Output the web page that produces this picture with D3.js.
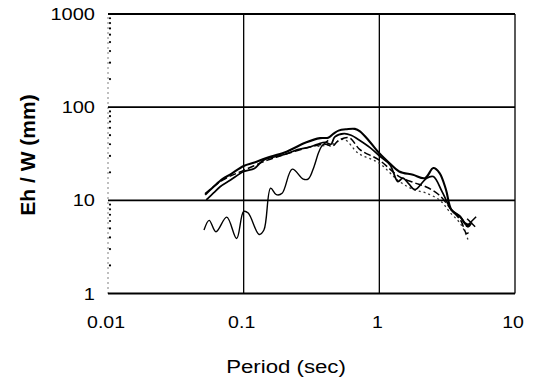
<!DOCTYPE html>
<html>
<head>
<meta charset="utf-8">
<script src="https://cdn.jsdelivr.net/npm/d3@7"></script>
<style>
  body { margin: 0; background: #fff; }
  text { font-family: "Liberation Sans", Arial, sans-serif; fill: #000; }
</style>
</head>
<body>
<div id="chart"></div>
<script>
// tick values
const xTicks = [0.01, 0.1, 1, 10];
const yTicks = [1, 10, 100, 1000];

// series: [period (sec), Eh/W (mm)]
const seriesTop = [[0.052,11.5],[0.06,14],[0.07,17],[0.08,19],[0.1,23.4],[0.12,25.5],[0.147,28.5],[0.2,32.6],[0.29,42],[0.366,46.5],[0.42,47],[0.46,52],[0.5,56],[0.576,58],[0.66,58.5],[0.72,55],[0.85,42.6],[1.0,32],[1.19,25],[1.4,20.4],[1.77,18.8],[2.17,17.3],[2.5,22.2],[2.78,19.6],[3.1,13],[3.4,7.9],[3.94,6.7],[4.27,5.7],[4.65,5.4]];
const seriesSecond = [[0.053,10.1],[0.06,12],[0.067,14],[0.08,16.5],[0.1,20.4],[0.12,22],[0.14,27],[0.2,31],[0.25,35],[0.3,37],[0.35,40],[0.4,42],[0.44,40],[0.47,48],[0.55,52],[0.62,50],[0.7,45],[0.85,37],[1.0,30],[1.2,24],[1.37,15.9],[1.49,17.3],[1.65,15],[1.83,13],[2.23,17.3],[2.5,18],[2.9,12.4],[3.4,7.9],[4.0,6.5],[4.5,5.2],[4.8,5.8]];
const seriesDashed = [[0.052,11.8],[0.07,16.5],[0.1,21],[0.15,27],[0.2,31],[0.3,37],[0.4,40],[0.45,38],[0.5,44],[0.6,47],[0.72,35],[1.0,27],[1.4,18],[1.8,15.5],[2.2,14],[2.76,11.4],[3.4,7.9],[4.0,6],[4.4,4.4],[4.7,4.8]];
const seriesDotted = [[0.35,38],[0.45,40],[0.55,45],[0.7,32],[1.0,25],[1.4,16],[1.8,13],[2.2,12],[2.8,10],[3.3,7.5],[4.0,5.5],[4.5,3.8]];
const seriesThin = [[0.051,4.8],[0.0557,6.1],[0.0625,4.6],[0.075,6.6],[0.0887,3.9],[0.1,7.6],[0.108,7.3],[0.13,4.3],[0.141,4.8],[0.158,13.5],[0.174,11.5],[0.192,11.9],[0.228,21.6],[0.275,16.9],[0.30,17],[0.33,23],[0.355,32],[0.375,38],[0.396,41],[0.42,44]];
const endMarker = [4.75, 5.9];

const W = 536, H = 383;
const margin = {left: 108, right: 21, top: 14, bottom: 89.5};

const svg = d3.select('#chart').append('svg')
  .attr('width', W).attr('height', H);

const x = d3.scaleLog().domain([0.01, 10]).range([margin.left, W - margin.right]);
const y = d3.scaleLog().domain([1, 1000]).range([H - margin.bottom, margin.top]);

// grid
svg.append('g').selectAll('line.h').data(yTicks).join('line')
  .attr('x1', x(0.01)).attr('x2', x(10))
  .attr('y1', d => y(d)).attr('y2', d => y(d))
  .attr('stroke', '#000').attr('stroke-width', 1.8);
svg.append('g').selectAll('line.v').data(xTicks.slice(1)).join('line')
  .attr('x1', d => x(d)).attr('x2', d => x(d))
  .attr('y1', y(1)).attr('y2', y(1000))
  .attr('stroke', '#000').attr('stroke-width', 1.3);
// left axis dotted
svg.append('line')
  .attr('x1', x(0.01)).attr('x2', x(0.01))
  .attr('y1', y(1)).attr('y2', y(1000))
  .attr('stroke', '#000').attr('stroke-width', 1).attr('stroke-dasharray', '1,4');

// minor tick dots on the left axis
const minors = [];
[1, 10, 100].forEach(dec => { for (let k = 2; k <= 9; k++) minors.push(dec * k); });
svg.append('g').selectAll('circle').data(minors).join('circle')
  .attr('cx', x(0.01) + 2).attr('cy', d => y(d)).attr('r', 1.1).attr('fill', '#000');

// tick labels
svg.append('g').selectAll('text').data(yTicks).join('text')
  .attr('transform', d => `translate(95, ${y(d) + 6}) scale(1.25,1)`)
  .attr('text-anchor', 'end').attr('font-size', 16)
  .text(d => d);
svg.append('g').selectAll('text').data(xTicks).join('text')
  .attr('transform', d => `translate(${x(d) - 2}, 328) scale(1.22,1)`)
  .attr('text-anchor', 'middle').attr('font-size', 16)
  .text(d => d);

// axis titles
svg.append('text')
  .attr('transform', 'translate(286, 373) scale(1.17,1)')
  .attr('text-anchor', 'middle').attr('font-size', 19)
  .text('Period (sec)');
svg.append('text')
  .attr('transform', 'translate(35, 155) rotate(-90)')
  .attr('text-anchor', 'middle').attr('font-size', 21).attr('font-weight', 'bold')
  .text('Eh / W (mm)');

// series
const line = d3.line().x(d => x(d[0])).y(d => y(d[1])).curve(d3.curveCatmullRom.alpha(0.5));
const styles = [
  {data: seriesDotted, w: 1.3, dash: '2,3', color: '#333'},
  {data: seriesDashed, w: 1.5, dash: '7,3', color: '#000'},
  {data: seriesThin, w: 1.4, dash: null, color: '#000'},
  {data: seriesSecond, w: 1.7, dash: null, color: '#000'},
  {data: seriesTop, w: 2.1, dash: null, color: '#000'}
];
svg.append('g').selectAll('path').data(styles).join('path')
  .attr('d', d => line(d.data))
  .attr('fill', 'none')
  .attr('stroke', d => d.color)
  .attr('stroke-width', d => d.w)
  .attr('stroke-dasharray', d => d.dash);

// end marker "x"
const mx = x(endMarker[0]), my = y(endMarker[1]);
svg.append('path')
  .attr('d', `M${mx - 5},${my + 5}L${mx + 5},${my - 5}M${mx - 4},${my - 3}L${mx + 4},${my + 5}`)
  .attr('stroke', '#000').attr('stroke-width', 1.5).attr('fill', 'none');
</script>
</body>
</html>
